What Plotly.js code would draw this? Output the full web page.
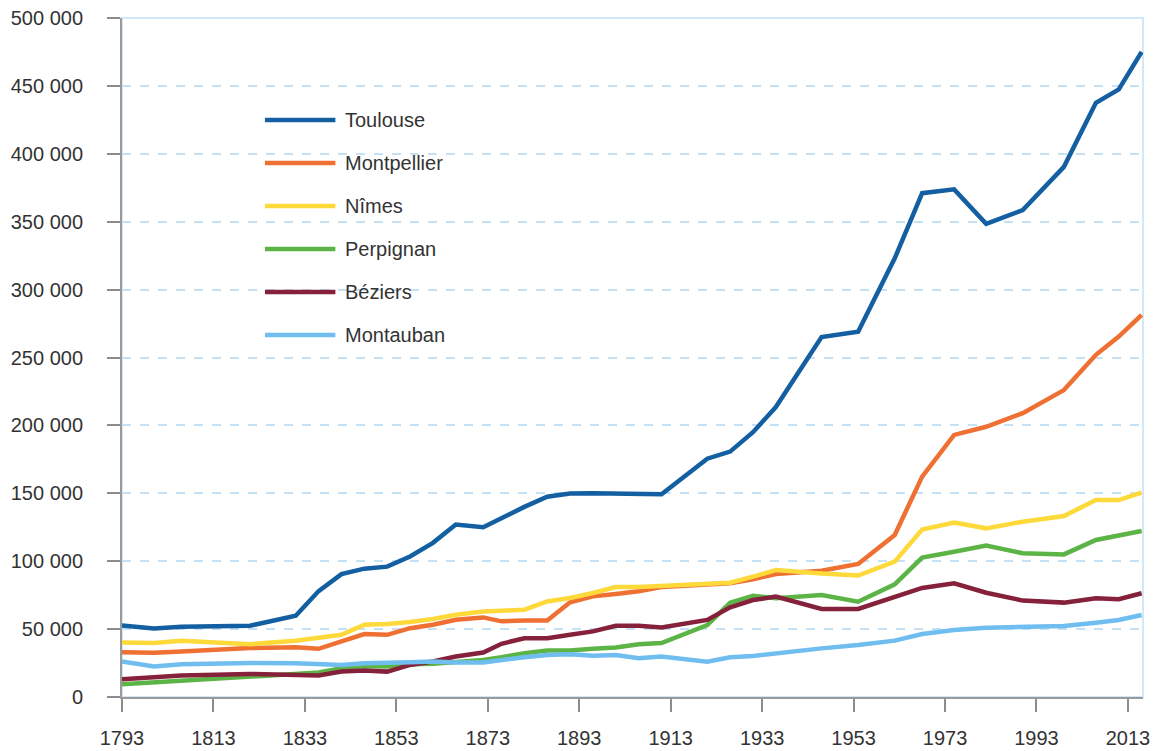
<!DOCTYPE html>
<html>
<head>
<meta charset="utf-8">
<script src="https://cdn.plot.ly/plotly-3.0.1.min.js"></script>
<style>
  html, body { margin: 0; padding: 0; background: #fff; }
  #chart { width: 1157px; height: 751px; }
</style>
</head>
<body>
<div id="chart"></div>
<script>
// Population of the main cities of Occitanie, census years 1793-2016

const years = [1793, 1800, 1806, 1821, 1831, 1836, 1841, 1846, 1851, 1856, 1861, 1866,
  1872, 1876, 1881, 1886, 1891, 1896, 1901, 1906, 1911, 1921, 1926, 1931, 1936,
  1946, 1954, 1962, 1968, 1975, 1982, 1990, 1999, 2006, 2011, 2016];

const toulouse = [52600, 50500, 51700, 52500, 59800, 78000, 90500, 94500, 96000, 103500,
  113500, 127000, 125000, 132000, 140000, 147500, 149800, 150000, 149800, 149300, 149300,
  175500, 180700, 195000, 213500, 265000, 269000, 323000, 371000, 373800, 348500, 358600,
  390400, 437600, 447400, 475000];

const montpellier = [33000, 32500, 33500, 36000, 36700, 35500, 40900, 46300, 45800, 50700,
  53200, 56900, 58600, 55700, 56400, 56400, 69700, 74100, 75900, 77800, 81000, 82500,
  83700, 86700, 90600, 93000, 98000, 119300, 162300, 193000, 199000, 209000, 226000,
  252000, 265400, 281300];

const nimes = [40100, 39700, 41400, 38900, 41400, 43800, 45800, 53200, 53700, 55300,
  57400, 60600, 63000, 63500, 64300, 70400, 72900, 76600, 81000, 81000, 82000, 83200,
  84200, 88600, 93500, 91000, 89400, 99700, 123300, 128400, 124200, 129100, 133300,
  145000, 145000, 150500];

const perpignan = [9400, 10800, 12600, 15000, 17500, 18000, 21200, 22900, 22400, 24100,
  24400, 25400, 27300, 29300, 32300, 34200, 34200, 35500, 36500, 38900, 39700, 53000,
  69500, 74600, 72700, 75100, 70200, 83000, 102700, 107000, 111500, 105800, 105000,
  115600, 118600, 122300];

const beziers = [13100, 15000, 15800, 17000, 16700, 15800, 18700, 19500, 18700, 23600,
  26100, 29800, 32800, 39200, 43300, 43300, 45800, 48300, 52500, 52500, 51200, 56800,
  66000, 71400, 73900, 64800, 64800, 73900, 80300, 83700, 76800, 71000, 69500, 72700,
  72000, 76400];

const montauban = [26100, 22400, 24100, 25100, 24900, 24100, 23600, 24900, 24900, 25600,
  26100, 25400, 25400, 27300, 29300, 31000, 31500, 30300, 31000, 28600, 29800, 26000,
  29200, 30200, 32200, 35800, 38300, 41500, 46400, 49300, 51000, 51800, 52300, 54700,
  56700, 60400];

const cityNames = ['Toulouse', 'Montpellier', 'Nîmes', 'Perpignan', 'Béziers', 'Montauban'];
const cityColors = ['#135fa1', '#ef7033', '#fdd93a', '#5cb446', '#85213b', '#70bef0'];
const cityValues = [toulouse, montpellier, nimes, perpignan, beziers, montauban];

const xTicks = [1793, 1813, 1833, 1853, 1873, 1893, 1913, 1933, 1953, 1973, 1993, 2013];
const yTicks = [0, 50000, 100000, 150000, 200000, 250000, 300000, 350000, 400000, 450000, 500000];
const yTickText = ['0', '50 000', '100 000', '150 000', '200 000', '250 000', '300 000',
  '350 000', '400 000', '450 000', '500 000'];

const FONT = 'Liberation Sans, Arial, sans-serif';

const traces = cityNames.map((name, i) => ({
    x: years,
    y: cityValues[i],
    type: 'scatter',
    mode: 'lines',
    name: name,
    line: { color: cityColors[i], width: 4.5 },
    showlegend: false,
    hoverinfo: 'x+y+name'
}));

// hand drawn legend: long line samples like the original
const legendShapes = [];
const legendNotes = [];
cityNames.forEach((name, i) => {
    const yPos = (697 - (120 + 43 * i)) / 679;
    legendShapes.push({
        type: 'line', xref: 'paper', yref: 'paper',
        x0: 0.140, x1: 0.209, y0: yPos, y1: yPos,
        line: { color: cityColors[i], width: 4.5 }
    });
    legendNotes.push({
        xref: 'paper', yref: 'paper', x: 0.216, y: yPos,
        xanchor: 'left', yanchor: 'middle', showarrow: false,
        text: name, font: { family: FONT, size: 20, color: '#333' }
    });
});

// light blue frame of the plot area
legendShapes.push({
    type: 'rect', xref: 'paper', yref: 'paper', x0: 0, x1: 1, y0: 0, y1: 1,
    line: { color: '#c4e1f6', width: 1.5 }, layer: 'below'
});

const layout = {
    width: 1157,
    height: 751,
    margin: { l: 122, r: 14, t: 18, b: 54 },
    paper_bgcolor: '#ffffff',
    plot_bgcolor: '#ffffff',
    font: { family: FONT, size: 20, color: '#333' },
    showlegend: false,
    xaxis: {
        range: [1793, 2016.3],
        tickvals: xTicks,
        ticktext: xTicks.map(String),
        ticks: 'outside',
        ticklen: 13,
        tickwidth: 2,
        tickcolor: '#8c8c8c',
        ticklabelstandoff: 9,
        showgrid: false,
        zeroline: false,
        showline: true,
        linecolor: '#9a9a9a',
        linewidth: 2
    },
    yaxis: {
        range: [0, 500000],
        tickvals: yTicks,
        ticktext: yTickText,
        ticks: 'outside',
        ticklen: 13,
        tickwidth: 2,
        tickcolor: '#8c8c8c',
        ticklabelstandoff: 20,
        showgrid: true,
        gridcolor: '#c4e1f6',
        gridwidth: 1.5,
        griddash: 'dash',
        zeroline: false,
        showline: true,
        linecolor: '#9a9a9a',
        linewidth: 2
    },
    shapes: legendShapes,
    annotations: legendNotes
};

Plotly.newPlot('chart', traces, layout, { displayModeBar: false, responsive: false });
</script>
</body>
</html>
